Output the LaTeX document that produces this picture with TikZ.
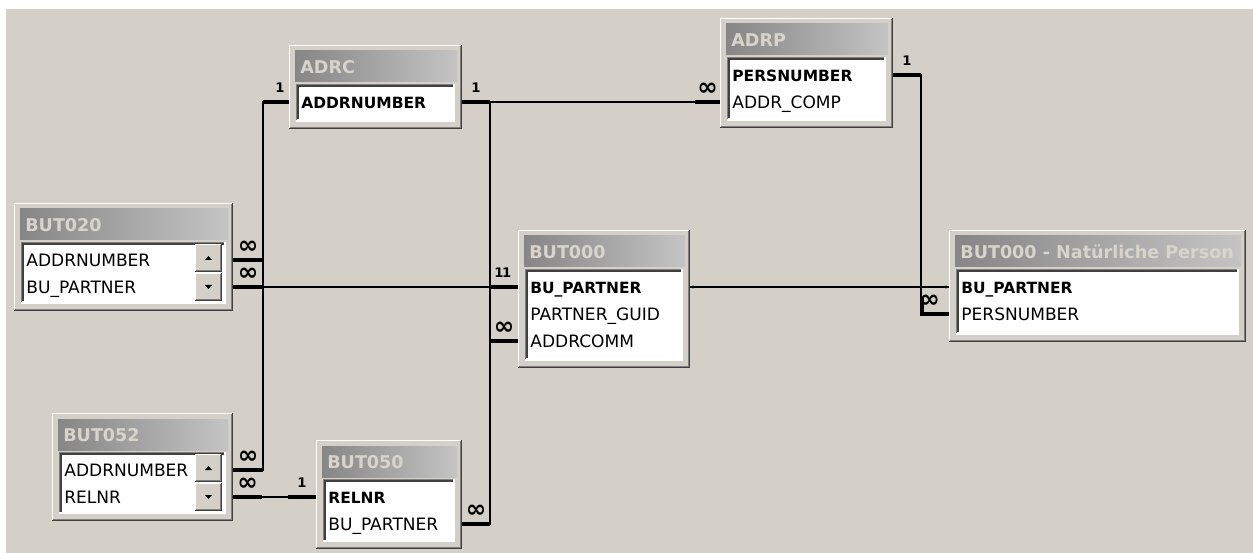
\documentclass[tikz,border=0pt]{standalone}
\usepackage{fontspec}
\newfontfamily\guifont{DejaVu Sans}

\definecolor{deskgrey}{HTML}{D4D0C8}
\definecolor{capleft}{HTML}{868686}
\definecolor{capright}{HTML}{C4C4C4}
\definecolor{captext}{HTML}{D8D4CC}
\definecolor{edgedark}{HTML}{404040}
\definecolor{edgeshadow}{HTML}{808080}

\tikzset{
  winlight/.style={draw=white, line width=0.6pt},
  windark/.style={draw=edgedark, line width=0.6pt},
  winshadow/.style={draw=edgeshadow, line width=0.6pt},
  wintitle/.style={anchor=west, inner sep=0, text height=7.3pt, text depth=0pt,
    text=captext, font=\guifont\bfseries\fontsize{10}{12}\selectfont},
  field/.style={anchor=west, inner sep=0, text height=7pt, text depth=0pt,
    font=\guifont\fontsize{9.7}{11}\selectfont},
  keyfield/.style={field, font=\guifont\bfseries\fontsize{8.8}{11}\selectfont},
  link/.style={line width=0.8pt},
  stub/.style={line width=2.3pt},
  onelbl/.style={above=4.5pt, inner sep=0, font=\guifont\bfseries\fontsize{7.5}{8}\selectfont},
  manylbl/.style={above=2.5pt, inner sep=0, font=\guifont\bfseries\fontsize{14}{14}\selectfont},
}

% field list window: name, width, height, title (top left corner at local origin)
\newcommand{\fieldwin}[4]{%
  \fill[deskgrey] (0,0) rectangle (#2,#3);
  \draw[winlight] (0.5,#3-1) -- (0.5,0.5) -- (#2-1,0.5);
  \draw[winshadow] (#2-1.5,1) -- (#2-1.5,#3-1.5) -- (1,#3-1.5);
  \draw[windark] (#2-0.5,0) -- (#2-0.5,#3-0.5) -- (0,#3-0.5);
  \shade[left color=capleft, right color=capright] (6,6) rectangle (#2-5,37);
  \fill[white] (7,39) rectangle (#2-8,#3-8);
  \draw[winshadow] (7.5,#3-8) -- (7.5,39.5) -- (#2-8,39.5);
  \draw[windark] (9,#3-9.5) -- (9,41) -- (#2-9.5,41);
  \draw[winlight] (#2-8,39) -- (#2-8,#3-8) -- (7,#3-8);
  \node[wintitle] (#1-title) at (11,22) {#4};
  \coordinate (#1-w) at (0,0);
  \coordinate (#1-e) at (#2,0);
}

% scroll buttons (up and down), top left corner given
\newcommand{\scrollbtns}[2]{%
  \foreach \by/\ay in {0/-2,29/2}{%
    \fill[deskgrey] (#1,#2+\by) rectangle ++(27,28);
    \draw[winlight] (#1+0.5,#2+\by+27) -- (#1+0.5,#2+\by+0.5) -- (#1+26,#2+\by+0.5);
    \draw[winshadow] (#1+25.5,#2+\by+1) -- (#1+25.5,#2+\by+26.5) -- (#1+1,#2+\by+26.5);
    \draw[windark] (#1+26.7,#2+\by) -- (#1+26.7,#2+\by+27.7) -- (#1,#2+\by+27.7);
    \fill (#1+13.5,#2+\by+14+\ay) -- (#1+10,#2+\by+14-\ay) -- (#1+17,#2+\by+14-\ay) -- cycle;
  }}

\begin{document}
\begin{tikzpicture}[x=0.02cm, y=-0.02cm]
  \useasboundingbox (0,0) rectangle (1253,553);
  \fill[white] (0,0) rectangle (1253,553);
  \fill[deskgrey] (6,9) rectangle (1253,553);

  \begin{scope}[shift={(14,203)}]
    \fieldwin{but020}{219}{108}{BUT020}
    \node[field] (but020-addr) at (12,57) {ADDRNUMBER};
    \node[field] (but020-bupart) at (12,84) {BU\_PARTNER};
    \scrollbtns{181}{41}
  \end{scope}

  \begin{scope}[shift={(52,413)}]
    \fieldwin{but052}{181}{108}{BUT052}
    \node[field] (but052-addr) at (12,57) {ADDRNUMBER};
    \node[field] (but052-relnr) at (12,84) {RELNR};
    \scrollbtns{143}{41}
  \end{scope}

  \begin{scope}[shift={(289,45)}]
    \fieldwin{adrc}{173}{84}{ADRC}
    \node[keyfield] (adrc-addr) at (12,57) {ADDRNUMBER};
  \end{scope}

  \begin{scope}[shift={(720,18)}]
    \fieldwin{adrp}{173}{110}{ADRP}
    \node[keyfield] (adrp-pers) at (12,57) {PERSNUMBER};
    \node[field] (adrp-comp) at (12,84) {ADDR\_COMP};
  \end{scope}

  \begin{scope}[shift={(518,230)}]
    \fieldwin{but000}{172}{138}{BUT000}
    \node[keyfield] (but000-bupart) at (12,57) {BU\_PARTNER};
    \node[field] (but000-guid) at (12,84) {PARTNER\_GUID};
    \node[field] (but000-comm) at (12,111) {ADDRCOMM};
  \end{scope}

  \begin{scope}[shift={(316,440)}]
    \fieldwin{but050}{146}{109}{BUT050}
    \node[keyfield] (but050-relnr) at (12,57) {RELNR};
    \node[field] (but050-bupart) at (12,84) {BU\_PARTNER};
  \end{scope}

  \begin{scope}[shift={(949,230)}]
    \fieldwin{np}{297}{112}{BUT000 - Natürliche Person}
    \node[keyfield] (np-bupart) at (12,57) {BU\_PARTNER};
    \node[field] (np-pers) at (12,84) {PERSNUMBER};
  \end{scope}

  % ADRC to BUT020 and BUT052
  \draw[link] (adrc-w |- adrc-addr) -- ++(-26,0) coordinate (adrc-lj) |- (but052-e |- but052-addr);
  \draw[link] (adrc-lj) |- (but020-e |- but020-addr);
  \draw[stub] (adrc-w |- adrc-addr) -- (adrc-lj) node[onelbl, pos=0.35] (adrc-one-l) {1};
  \draw[stub] (but020-e |- but020-addr) -- ++(30,0) node[manylbl, midway] (but020-many-a) {∞};
  \draw[stub] (but052-e |- but052-addr) -- ++(30,0) node[manylbl, midway] (but052-many-a) {∞};

  % ADRC to ADRP and BUT000
  \draw[link] (adrc-e |- adrc-addr) -- ++(28,0) coordinate (adrc-rj) -- (adrp-w |- adrp-comp);
  \draw[link] (adrc-rj) |- (but000-w |- but000-comm);
  \draw[stub] (adrc-e |- adrc-addr) -- (adrc-rj) node[onelbl, midway] (adrc-one-r) {1};
  \draw[stub] (adrp-w |- adrp-comp) -- ++(-25,0) node[manylbl, midway] (adrp-many) {∞};
  \draw[stub] (but000-w |- but000-comm) -- ++(-28,0) node[manylbl, midway] (but000-many) {∞};

  % BU_PARTNER
  \draw[link] (but020-e |- but020-bupart) -- (but000-w |- but000-bupart);
  \draw[link] (but050-e |- but050-bupart) -- ++(28,0) |- (but000-w |- but000-bupart);
  \draw[stub] (but020-e |- but020-bupart) -- ++(30,0) node[manylbl, midway] (but020-many-b) {∞};
  \draw[stub] (but050-e |- but050-bupart) -- ++(28,0) node[manylbl, midway] (but050-many) {∞};
  \draw[stub] (but000-w |- but000-bupart) -- ++(-28,0)
    node[onelbl, pos=0.4] (but000-one-a) {1} node[onelbl, pos=0.68] (but000-one-b) {1};

  % RELNR
  \draw[link] (but052-e |- but052-relnr) -- (but050-w |- but050-relnr);
  \draw[stub] (but052-e |- but052-relnr) -- ++(29,0) node[manylbl, midway] (but052-many-b) {∞};
  \draw[stub] (but050-w |- but050-relnr) -- ++(-28,0) node[onelbl, midway] (but050-one) {1};

  % PERSNUMBER
  \draw[link] (adrp-e |- adrp-pers) -- ++(28,0) coordinate (adrp-rj) |- (np-w |- np-pers);
  \draw[stub] (adrp-e |- adrp-pers) -- (adrp-rj) node[onelbl, midway] (adrp-one) {1};
  \draw[stub] (np-w |- np-pers) -- ++(-27,0) node[manylbl, pos=0.72] (np-many) {∞} -- ++(0,-16);

  % BUT000 to natural person
  \draw[link] (but000-e |- but000-bupart) -- (np-w |- np-bupart);
  \fill (but000-e |- but000-bupart) ++(3,0) circle (0.9pt);
  \fill (np-w |- np-bupart) ++(-3,0) circle (0.9pt);
\end{tikzpicture}
\end{document}
